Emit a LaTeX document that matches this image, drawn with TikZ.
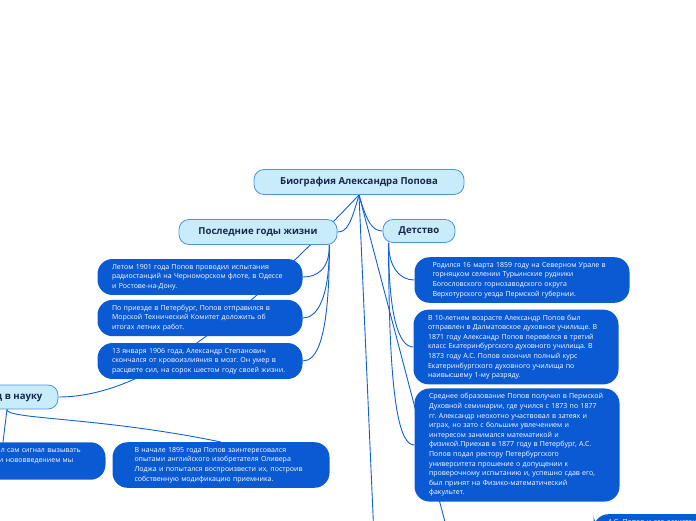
\documentclass[tikz,border=0pt]{standalone}
\usepackage{fontspec}
\setmainfont{Open Sans}
\frenchspacing
\usetikzlibrary{backgrounds}
\definecolor{topicfill}{HTML}{C9ECFB}
\definecolor{topicline}{HTML}{4A96D8}
\definecolor{topictext}{HTML}{17284A}
\definecolor{notefill}{HTML}{0A5AD4}
\definecolor{linkblue}{HTML}{1060D8}

\begin{document}
\begin{tikzpicture}[x=1pt, y=-1pt,
  topic/.style={draw=topicline, fill=topicfill, line width=0.8pt, rounded corners=10pt, text=topictext, font=\bfseries\fontsize{9.6}{11}\selectfont, minimum height=25pt, inner sep=0pt},
  note/.style={fill=notefill, rounded corners=15pt, text=white, font=\fontsize{7}{9.6}\selectfont, align=left, text width=176pt, inner xsep=14.5pt, inner ysep=5pt},
  link/.style={draw=linkblue, line width=0.9pt}]
\useasboundingbox (0,0) rectangle (696,520);
\node[topic, minimum width=210pt] (root) at (359,182) {Биография Александра Попова};
\node[topic, minimum width=158pt] (late) at (258,232) {Последние годы жизни};
\node[topic, minimum width=72pt, minimum height=23pt] (child) at (419,231) {Детство};
\node[topic, minimum width=102pt, minimum height=24pt] (science) at (7,397) {Вклад в науку};
\node[note] (b1) at (200,277) {Летом 1901 года Попов проводил испытания\\радиостанций на Черноморском флоте, в Одессе\\и Ростове-на-Дону.};
\node[note] (b2) at (200,318) {По приезде в Петербург, Попов отправился в\\Морской Технический Комитет доложить об\\итогах летних работ.};
\node[note] (b3) at (200,361) {13 января 1906 года, Александр Степанович\\скончался от кровоизлияния в мозг. Он умер в\\расцвете сил, на сорок шестом году своей жизни.};
\node[note, text width=179pt, inner xsep=18pt] (r1) at (522,280) {Родился 16 марта 1859 году на Северном Урале в\\горняцком селении Турьинские рудники\\Богословского горнозаводского округа\\Верхотурского уезда Пермской губернии.};
\node[note] (r2) at (516,347) {В 10-летнем возрасте Александр Попов был\\отправлен в Далматовское духовное училище. В\\1871 году Александр Попов перевёлся в третий\\класс Екатеринбургского духовного училища. В\\1873 году А.С. Попов окончил полный курс\\Екатеринбургского духовного училища по\\наивысшему 1-му разряду.};
\node[note] (r3) at (517,445) {Среднее образование Попов получил в Пермской\\Духовной семинарии, где учился с 1873 по 1877\\гг. Александр неохотно участвовал в затеях и\\играх, но зато с большим увлечением и\\интересом занимался математикой и\\физикой.Приехав в 1877 году в Петербург, А.С.\\Попов подал ректору Петербургского\\университета прошение о допущении к\\проверочному испытанию и, успешно сдав его,\\был принят на Физико-математический\\факультет.};
\node[note, text width=173pt, inner xsep=22pt] (b4) at (221,465) {В начале 1895 года Попов заинтересовался\\опытами английского изобретателя Оливера\\Лоджа и попытался воспроизвести их, построив\\собственную модификацию приемника.};
\node[note] (b5) at (3,461) {Их приёмник должен был сам сигнал вызывать\\наш звонок приёмника и нововведением мы\\\strut};
\node[note, anchor=north] (b6) at (696,514) {А.С. Попов и его ассистент};
\coordinate (off1) at (375,560);
\coordinate (off2) at (455,560);
\begin{scope}[on background layer]
\draw[link] (root.south) .. controls +(-8,28) and +(10,0) .. (late.east);
\draw[link] (root.south) .. controls +(8,28) and +(-10,0) .. (child.west);
\draw[link] (root.south) .. controls (250,310) and (150,397) .. (science.east);
\draw[link] (root.south) -- (off1);
\draw[link] (root.south) -- (off2);
\draw[link] ([xshift=-8pt]late.south east) .. controls +(0,25) and +(14,0) .. (b1.east);
\draw[link] ([xshift=-8pt]late.south east) .. controls +(0,55) and +(14,0) .. (b2.east);
\draw[link] ([xshift=-8pt]late.south east) .. controls +(0,95) and +(14,0) .. (b3.east);
\draw[link] ([xshift=6pt]child.south west) .. controls +(0,25) and +(-14,0) .. (r1.west);
\draw[link] ([xshift=6pt]child.south west) .. controls +(0,75) and +(-14,0) .. (r2.west);
\draw[link] ([xshift=6pt]child.south west) .. controls +(0,165) and +(-14,0) .. (r3.west);
\draw[link] (science.south) -- (b5.north);
\draw[link] (science.south) .. controls +(-2,10) and +(-120,-25) .. (b4.north);
\end{scope}
\end{tikzpicture}
\end{document}
